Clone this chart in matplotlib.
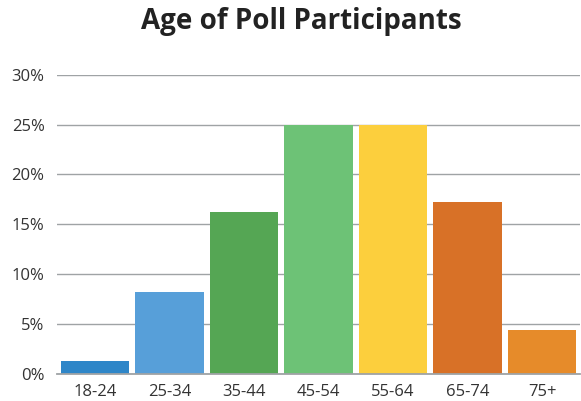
import matplotlib
matplotlib.use("Agg")
import matplotlib.pyplot as plt
from matplotlib.ticker import FuncFormatter

categories = ["18-24", "25-34", "35-44", "45-54", "55-64", "65-74", "75+"]
shares = [1.3, 8.2, 16.2, 25.0, 25.0, 17.2, 4.4]
colors = ["#2E86C8", "#579FD9", "#55A654", "#6DC276", "#FCCF3D", "#D87127", "#E68B2A"]
y_ticks = [0, 5, 10, 15, 20, 25, 30]

plt.rcParams["font.family"] = ["Open Sans", "DejaVu Sans"]

fig = plt.figure(figsize=(5.81, 4.01), dpi=100)
ax = fig.add_axes([57 / 581, 1 - 374 / 401, 523 / 581, 299.3 / 401])

x = range(len(categories))
ax.bar(x, shares, width=0.913, color=colors, zorder=3)

ax.set_ylim(0, 30)
ax.set_xlim(-0.51, len(categories) - 0.49)
ax.set_yticks(y_ticks)
ax.yaxis.set_major_formatter(FuncFormatter(lambda v, p: f"{int(v)}%"))
ax.set_xticks(list(x))
ax.set_xticklabels(categories)

ax.grid(axis="y", color="#9fa3a5", linewidth=1.0, zorder=0)
for side in ["top", "right", "left"]:
    ax.spines[side].set_visible(False)
ax.spines["bottom"].set_color("#9fa3a5")
ax.spines["bottom"].set_linewidth(1.3)
ax.spines["bottom"].set_zorder(4)
ax.tick_params(axis="both", length=0, labelsize=12, labelcolor="#333333")
ax.tick_params(axis="y", pad=9)
ax.tick_params(axis="x", pad=7)

fig.text(301 / 581, 1 - 21 / 401, "Age of Poll Participants", ha="center", va="center",
         fontsize=20, fontweight="bold", color="#222222")

fig.savefig("out.png", dpi=100)
